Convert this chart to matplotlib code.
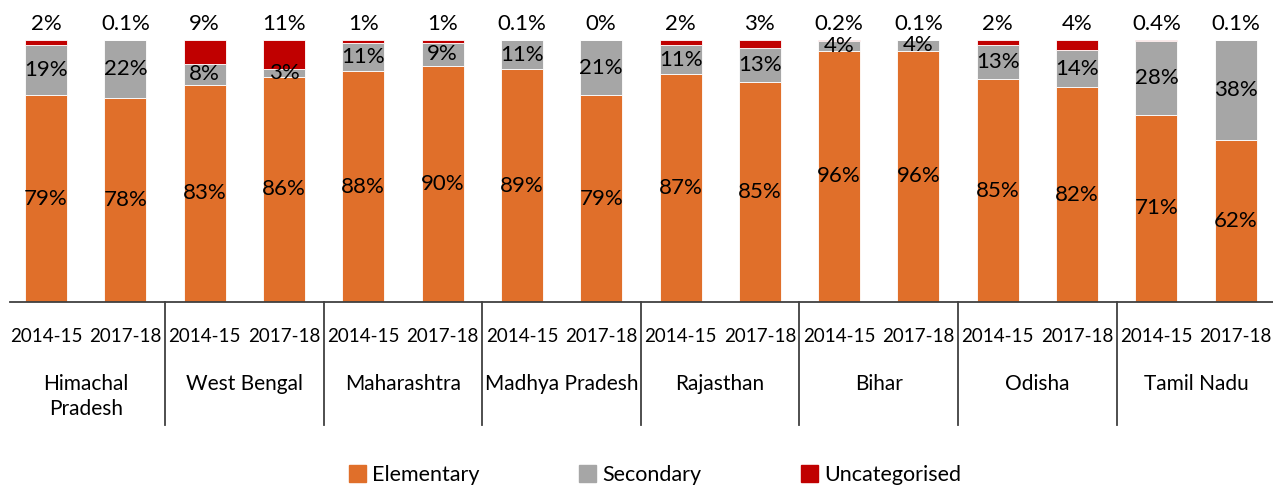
import matplotlib.pyplot as plt
import numpy as np

plt.rcParams['font.family'] = ['Lato', 'DejaVu Sans']

states = ["Himachal\nPradesh", "West Bengal", "Maharashtra", "Madhya Pradesh",
          "Rajasthan", "Bihar", "Odisha", "Tamil Nadu"]
years = ["2014-15", "2017-18"]

elementary = [79, 78, 83, 86, 88, 90, 89, 79, 87, 85, 96, 96, 85, 82, 71, 62]
secondary = [19, 22, 8, 3, 11, 9, 11, 21, 11, 13, 4, 4, 13, 14, 28, 38]
uncategorised = [2, 0.1, 9, 11, 1, 1, 0.1, 0, 2, 3, 0.2, 0.1, 2, 4, 0.4, 0.1]
uncat_labels = ["2%", "0.1%", "9%", "11%", "1%", "1%", "0.1%", "0%",
                "2%", "3%", "0.2%", "0.1%", "2%", "4%", "0.4%", "0.1%"]

c_elem = "#E06F2A"
c_sec = "#A6A6A6"
c_unc = "#C00000"


def main():
    fig = plt.figure(figsize=(12.73, 4.87), dpi=100)
    ax = fig.add_axes([10 / 1273, 185 / 487, 1263 / 1273, 262 / 487])

    x = np.arange(len(elementary))
    elem = np.array(elementary, dtype=float)
    sec = np.array(secondary, dtype=float)
    unc = np.array(uncategorised, dtype=float)
    # 100% stacked: scale each bar to its total
    tot = (elem + sec + unc) / 100
    elem, sec, unc = elem / tot, sec / tot, unc / tot
    w = 0.53

    ax.bar(x, elem, w, color=c_elem, edgecolor="white", linewidth=0.6)
    ax.bar(x, sec, w, bottom=elem, color=c_sec, edgecolor="white", linewidth=0.6)
    ax.bar(x, unc, w, bottom=elem + sec, color=c_unc, edgecolor="white", linewidth=0.6)

    for i in x:
        ax.text(i, elem[i] / 2, f"{elementary[i]}%", ha="center", va="center", fontsize=16)
        ax.text(i, elem[i] + sec[i] / 2, f"{secondary[i]}%", ha="center", va="center", fontsize=16)
        ax.text(i, 102.3, uncat_labels[i], ha="center", va="bottom", fontsize=16, clip_on=False)

    ax.set_xlim(-0.454, 15.47)
    ax.set_ylim(0, 100)
    ax.set_yticks([])
    ax.set_xticks(x)
    ax.set_xticklabels(years * len(states), fontsize=13.5)
    ax.tick_params(axis="x", length=0, pad=18.5)
    for s in ["top", "right", "left"]:
        ax.spines[s].set_visible(False)
    ax.spines["bottom"].set_color("#404040")
    ax.spines["bottom"].set_linewidth(1.3)

    trans = ax.get_xaxis_transform()
    for g in range(1, len(states)):
        ax.plot([2 * g - 0.5, 2 * g - 0.5], [0, -123 / 262], transform=trans,
                color="#404040", lw=1.3, clip_on=False)
    for g, name in enumerate(states):
        ax.text(2 * g + 0.5, -72 / 262, name, transform=trans, ha="center", va="top",
                fontsize=15, linespacing=1.3)

    handles = [plt.Rectangle((0, 0), 1, 1, color=c) for c in (c_elem, c_sec, c_unc)]
    fig.legend(handles, ["Elementary", "Secondary", "Uncategorised"], loc="center",
               bbox_to_anchor=(655 / 1273, 12 / 487), ncol=3, frameon=False, fontsize=15.5,
               handlelength=0.8, handleheight=0.8, handletextpad=0.3, columnspacing=4.6)

    fig.savefig("out.png", dpi=100)


if __name__ == '__main__':
    main()
